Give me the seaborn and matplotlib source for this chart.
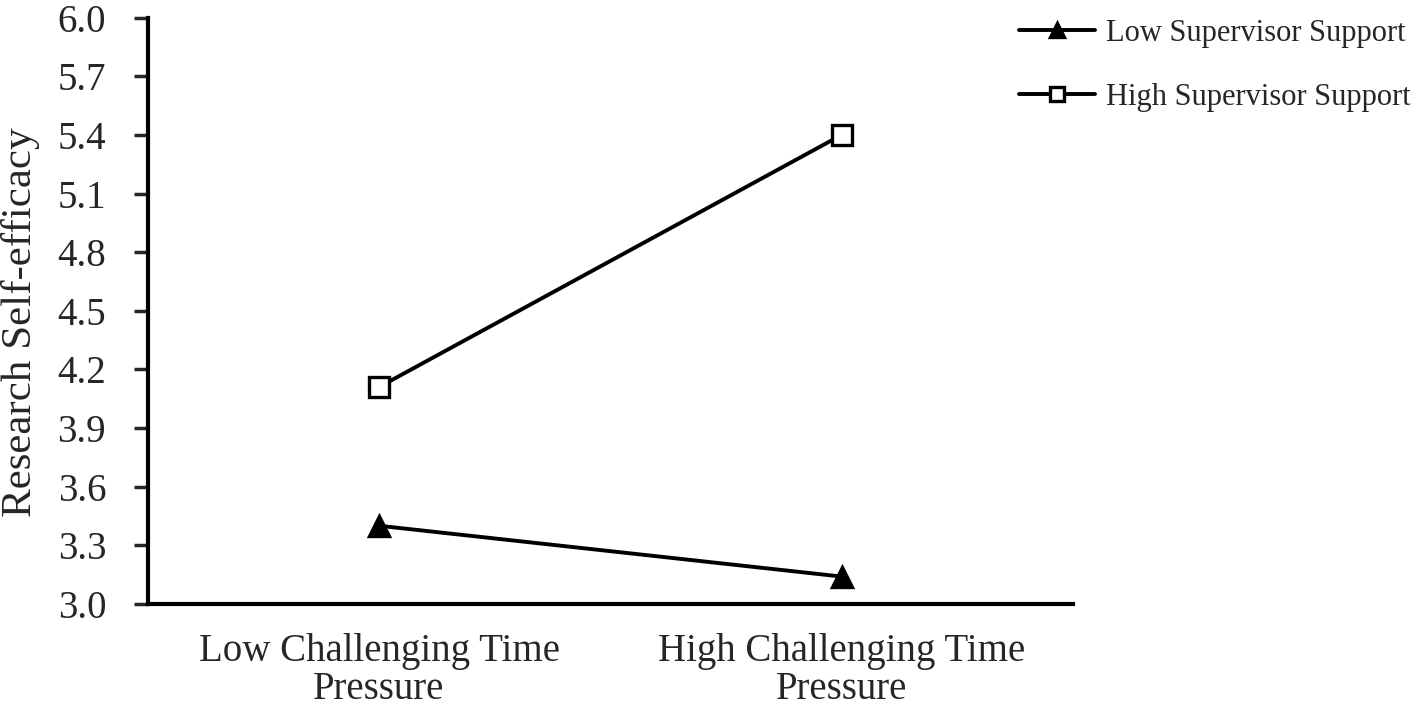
import matplotlib
matplotlib.use("Agg")
import matplotlib.pyplot as plt
import seaborn as sns
import pandas as pd

# data
conditions = ["Low Challenging Time\nPressure", "High Challenging Time\nPressure"]
groups = ["Low Supervisor Support", "High Supervisor Support"]
low_support = [3.40, 3.14]
high_support = [4.11, 5.40]
y_ticks = [3.0, 3.3, 3.6, 3.9, 4.2, 4.5, 4.8, 5.1, 5.4, 5.7, 6.0]

df = pd.DataFrame({
    "condition": conditions * 2,
    "support": [groups[0]] * 2 + [groups[1]] * 2,
    "efficacy": low_support + high_support,
})

sns.set_style("ticks")
plt.rcParams["font.family"] = ["Liberation Serif", "DejaVu Serif"]

fig = plt.figure(figsize=(14.21, 7.08), dpi=100)
ax = fig.add_axes([0.104, 0.147, 0.651, 0.828])

sns.pointplot(data=df, x="condition", y="efficacy", hue="support",
              order=conditions, hue_order=groups,
              palette=["black", "black"], markers=["^", "s"],
              linestyles=["-", "-"], markersize=14, linewidth=2.8,
              errorbar=None, ax=ax, legend=False)

# white squares for the high support line
handles = []
for line, g in zip(ax.lines, groups):
    line.set_markeredgewidth(2.4)
    line.set_markeredgecolor("black")
    if g == groups[1]:
        line.set_markerfacecolor("white")
        line.set_markersize(15)
    line.set_label(g)
    handles.append(line)

ax.set_xlim(-0.5, 1.5)
ax.set_ylim(3.0, 6.0)
ax.set_yticks(y_ticks)
ax.set_yticklabels([f"{t:.1f}" for t in y_ticks])
ax.set_xlabel("")
ax.set_ylabel("Research Self-efficacy", fontsize=31)
ax.yaxis.set_label_coords(-0.117, 0.481)
ax.tick_params(axis="y", labelsize=28, length=10, width=2.5, direction="out", pad=20)
ax.tick_params(axis="x", labelsize=28, length=0, pad=21)
for lbl in ax.get_xticklabels():
    lbl.set_linespacing(1.05)

sns.despine(ax=ax)
for side in ["left", "bottom"]:
    ax.spines[side].set_linewidth(3)
    ax.spines[side].set_color("black")

fig.legend(handles=handles, labels=groups, loc="upper left",
           bbox_to_anchor=(0.706, 0.995), frameon=False, fontsize=22,
           borderpad=0, handlelength=2.5, handletextpad=0.35,
           labelspacing=1.15, markerscale=0.7)

fig.savefig("out.png", dpi=100)
